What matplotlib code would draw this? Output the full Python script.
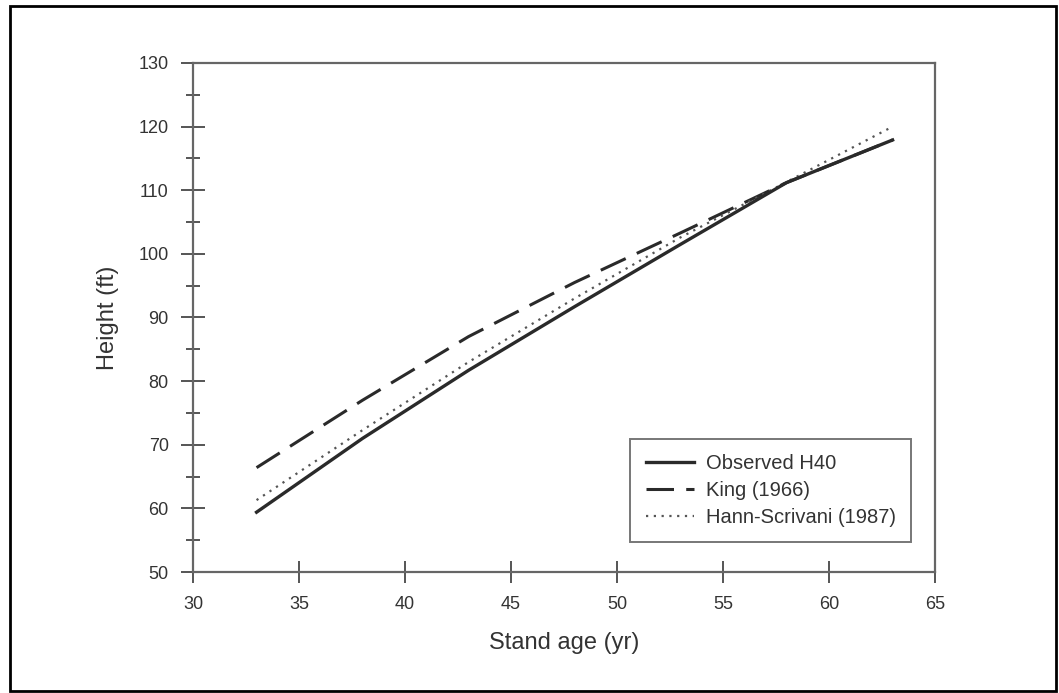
import matplotlib.pyplot as plt
from matplotlib.patches import Rectangle
from matplotlib.ticker import MultipleLocator

plt.rcParams['font.family'] = ['Liberation Sans', 'DejaVu Sans']

# stand age (yr) and top height (ft) for each curve
ages = [33, 38, 43, 48, 53, 58, 63]
observed_h40 = [59.4, 71.0, 81.7, 91.7, 101.5, 111.2, 117.9]
king_1966 = [66.4, 77.0, 87.0, 95.5, 103.3, 111.2, 117.9]
hann_scrivani_1987 = [61.3, 72.3, 83.0, 93.0, 102.6, 111.3, 120.0]

x_ticks = [30, 35, 40, 45, 50, 55, 60, 65]
y_ticks = [50, 60, 70, 80, 90, 100, 110, 120, 130]

fig = plt.figure(figsize=(10.59, 6.93), dpi=100)
ax = fig.add_axes([0.1822, 0.1746, 0.8829 - 0.1822, 0.9091 - 0.1746])

line_col = '#2a2a2a'
ax.plot(ages, observed_h40, color=line_col, lw=2.4, ls='-', label='Observed H40', zorder=3)
ax.plot(ages, king_1966, color=line_col, lw=2.2, ls=(0, (9, 4)), label='King (1966)', zorder=2)
ax.plot(ages, hann_scrivani_1987, color='#555555', lw=1.6, ls=(0, (1, 2.5)),
        label='Hann-Scrivani (1987)', zorder=2)

ax.set_xlim(30, 65)
ax.set_ylim(50, 130)
ax.set_xticks(x_ticks)
ax.set_yticks(y_ticks)
ax.yaxis.set_minor_locator(MultipleLocator(5))

for s in ax.spines.values():
    s.set_color('#666666')
    s.set_linewidth(1.6)

ax.tick_params(axis='both', which='major', direction='inout', colors='#555555',
               labelcolor='#333333', labelsize=13, width=1.4, pad=9)
ax.tick_params(axis='y', which='major', length=17)
ax.tick_params(axis='x', which='major', length=16)
ax.tick_params(axis='y', which='minor', direction='inout', length=10, width=1.4, color='#555555')

ax.set_xlabel('Stand age (yr)', fontsize=17, color='#333333', labelpad=14)
ax.set_ylabel('Height (ft)', fontsize=17, color='#333333', labelpad=14)

leg = ax.legend(loc='lower right', bbox_to_anchor=(0.9677, 0.059), borderaxespad=0,
                fontsize=14.5, frameon=True, fancybox=False, handlelength=2.4,
                handletextpad=0.6, labelspacing=0.4, borderpad=0.75, labelcolor='#333333')
leg.get_frame().set_edgecolor('#555555')
leg.get_frame().set_linewidth(1.4)

# frame around the whole figure
fig.patches.append(Rectangle((10 / 1059, 2 / 693), 1046 / 1059, 685 / 693,
                             transform=fig.transFigure, fill=False,
                             edgecolor='black', linewidth=2))

fig.savefig('out.png', dpi=100)
